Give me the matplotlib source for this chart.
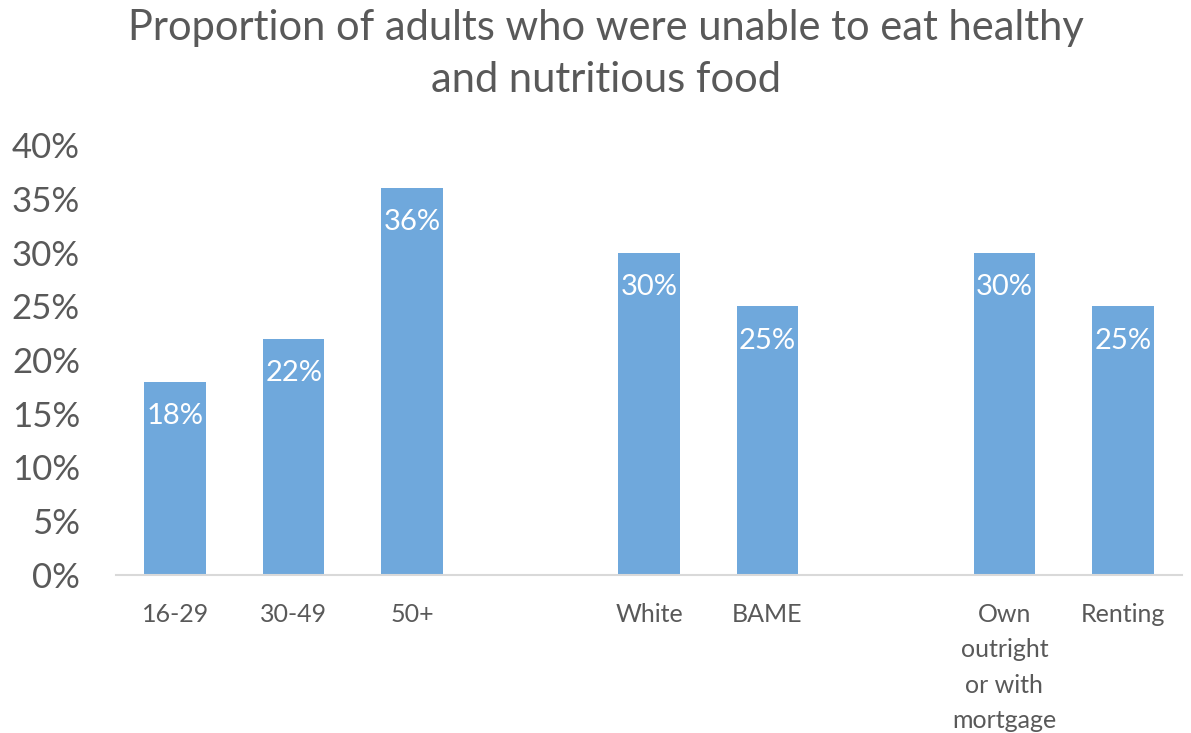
import matplotlib.pyplot as plt
import numpy as np

# Доля взрослых, не имевших возможности питаться здоровой пищей
categories = ["16-29", "30-49", "50+", "", "White", "BAME", "",
              "Own\noutright\nor with\nmortgage", "Renting"]
values = [18, 22, 36, None, 30, 25, None, 30, 25]
yticks = [0, 5, 10, 15, 20, 25, 30, 35, 40]

plt.rcParams['font.family'] = ['Lato', 'DejaVu Sans']
grey = "#595959"

fig = plt.figure(figsize=(11.91, 7.33), dpi=100)
ax = fig.add_axes([116/1191, 1-575/733, (1182-116)/1191, (575-145)/733])

x = np.arange(len(categories))
for xi, v in zip(x, values):
    if v is None:
        continue
    ax.bar(xi, v, width=0.52, color="#6FA8DC", zorder=2)
    ax.text(xi, v - 2.0, f"{v}%", ha="center", va="top",
            color="white", fontsize=21)

ax.set_xlim(-0.5, len(categories) - 0.5)
ax.set_ylim(0, 40)
ax.set_yticks(yticks)
ax.set_yticklabels([f"{t}%" for t in yticks], fontsize=25, color=grey)
ax.set_xticks(x)
ax.set_xticklabels(categories, fontsize=18, color=grey, va="top",
                   linespacing=1.66)
ax.tick_params(axis="both", length=0)
ax.tick_params(axis="x", pad=20)
ax.tick_params(axis="y", pad=26)
for lbl in ax.get_yticklabels():
    lbl.set_horizontalalignment("right")

for s in ["top", "right", "left"]:
    ax.spines[s].set_visible(False)
ax.spines["bottom"].set_color("#D9D9D9")
ax.spines["bottom"].set_linewidth(1.5)

fig.text(606/1191, 1-54/733,
         "Proportion of adults who were unable to eat healthy\nand nutritious food",
         ha="center", va="center", fontsize=30, color=grey, linespacing=1.45)

fig.savefig("out.png", dpi=100)
